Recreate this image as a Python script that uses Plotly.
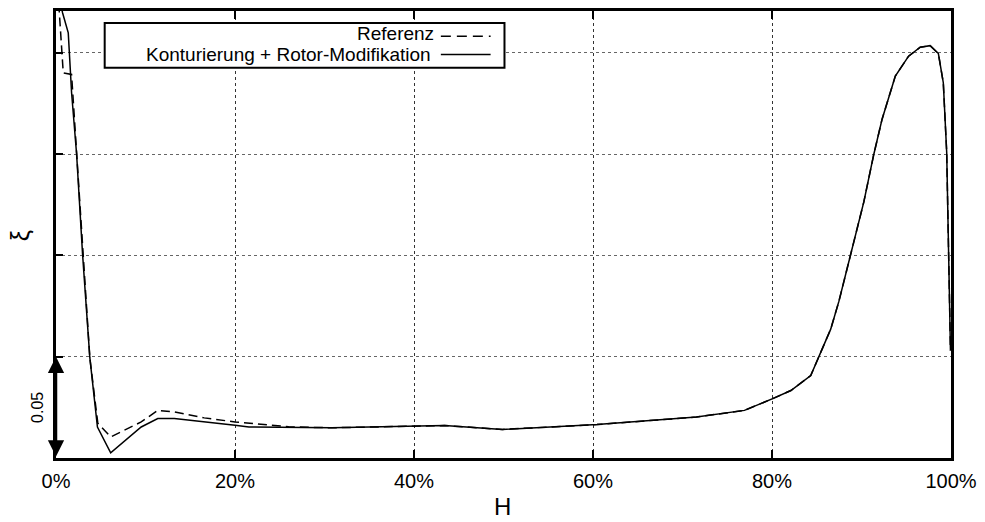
import plotly.graph_objects as go

# Relative channel height H and loss coefficient xi
h_ref = [0.0, 0.0037, 0.0081, 0.0174, 0.0230, 0.0297, 0.0378, 0.0467, 0.0611,
         0.0952, 0.1137, 0.1322, 0.1656, 0.2000, 0.2600, 0.3078, 0.4000, 0.4341,
         0.4989, 0.6044, 0.7156, 0.7692, 0.8008, 0.8211, 0.8433, 0.8656, 0.8748,
         0.9026, 0.9137, 0.9230, 0.9378, 0.9526, 0.9656, 0.9767, 0.9859, 0.9914,
         0.9952, 0.9994]
xi_ref = [0.245, 0.2196, 0.1901, 0.1893, 0.150, 0.1005, 0.0495, 0.0172, 0.0104,
          0.0178, 0.0235, 0.0227, 0.0198, 0.0178, 0.0154, 0.0149, 0.0158, 0.0160,
          0.0141, 0.0165, 0.0202, 0.0235, 0.0293, 0.0333, 0.0407, 0.0636, 0.0774,
          0.1264, 0.1498, 0.1672, 0.1885, 0.1983, 0.2027, 0.2035, 0.1996, 0.1852,
          0.1509, 0.053]

h_mod = [0.0, 0.0074, 0.0137, 0.0174, 0.0230, 0.0297, 0.0378, 0.0463, 0.0611,
         0.0952, 0.1137, 0.1322, 0.2000, 0.2156, 0.3078, 0.4000, 0.4341, 0.4989,
         0.6044, 0.7156, 0.7692, 0.8008, 0.8211, 0.8433, 0.8656, 0.8748, 0.9026,
         0.9137, 0.9230, 0.9378, 0.9526, 0.9656, 0.9767, 0.9859, 0.9914, 0.9952,
         0.9994]
xi_mod = [0.235, 0.2196, 0.2098, 0.1804, 0.150, 0.1005, 0.0495, 0.0153, 0.0026,
          0.0153, 0.0195, 0.0195, 0.0162, 0.0153, 0.0149, 0.0158, 0.0160, 0.0141,
          0.0165, 0.0202, 0.0235, 0.0293, 0.0333, 0.0407, 0.0636, 0.0774, 0.1264,
          0.1498, 0.1672, 0.1885, 0.1983, 0.2027, 0.2035, 0.1996, 0.1852, 0.1509,
          0.053]

x_ticks = [0.0, 0.2, 0.4, 0.6, 0.8, 1.0]
x_tick_labels = ["0%", "20%", "40%", "60%", "80%", "100%"]
series_names = ["Referenz", "Konturierung + Rotor-Modifikation"]
scale_bar = 0.05

FONT = "Liberation Sans, Arial, Helvetica, sans-serif"

fig = go.Figure()
fig.add_trace(go.Scatter(x=h_ref, y=xi_ref, mode="lines", name=series_names[0],
                         line=dict(color="black", width=1.5, dash="9px,5px"),
                         showlegend=False))
fig.add_trace(go.Scatter(x=h_mod, y=xi_mod, mode="lines", name=series_names[1],
                         line=dict(color="black", width=1.5),
                         showlegend=False))

fig.update_layout(
    width=985, height=522,
    margin=dict(l=56, r=29, t=8, b=64),
    paper_bgcolor="white", plot_bgcolor="white",
    font=dict(family=FONT, color="black"),
    xaxis=dict(range=[0, 1], tickvals=x_ticks, ticktext=x_tick_labels,
               tickfont=dict(size=20), ticks="inside", ticklen=8, tickwidth=2,
               tickcolor="black", showline=True, linewidth=3, linecolor="black",
               mirror="ticks", showgrid=True, gridcolor="#333", gridwidth=1,
               griddash="3px,3px", zeroline=False, ticklabelstandoff=3),
    yaxis=dict(range=[0, 0.2206], tick0=0, dtick=0.05, showticklabels=False,
               ticks="inside", ticklen=7, tickwidth=2, tickcolor="black",
               showline=True, linewidth=3, linecolor="black", mirror=True,
               showgrid=True, gridcolor="#666", gridwidth=1,
               griddash="3px,3px", zeroline=False),
)

# Axis titles
fig.add_annotation(text="H", xref="paper", yref="paper", x=0.4989, y=-0.1089,
                   showarrow=False, font=dict(size=24), xanchor="center",
                   yanchor="middle")
fig.add_annotation(text="ξ", xref="paper", yref="paper", x=-0.0394, y=0.4978,
                   showarrow=False, font=dict(size=25), textangle=-90,
                   xanchor="center", yanchor="middle")

# Scale bar for one grid step
fig.add_annotation(x=0, y=scale_bar, ax=0, ay=0, xref="x", yref="y",
                   axref="x", ayref="y", text="", showarrow=True,
                   arrowhead=2, startarrowhead=2, arrowside="end+start",
                   arrowsize=1.3, startarrowsize=1.3, arrowwidth=2.5,
                   arrowcolor="black")
fig.add_annotation(text=f"{scale_bar:.2f}", xref="paper", yref="y",
                   x=-0.0206, y=scale_bar / 2, showarrow=False,
                   textangle=-90, font=dict(size=16), xanchor="center",
                   yanchor="middle")

# Legend box with the line samples to the right of the labels
fig.add_shape(type="rect", xref="paper", yref="paper",
              x0=0.0544, x1=0.5011, y0=0.8733, y1=0.9733,
              line=dict(color="black", width=2), fillcolor="white", layer="above")
fig.add_annotation(text=series_names[0], xref="paper", yref="paper",
                   x=0.4244, y=0.9500, showarrow=False, xanchor="right",
                   yanchor="middle", font=dict(size=19))
fig.add_annotation(text=series_names[1], xref="paper", yref="paper",
                   x=0.4211, y=0.9030, showarrow=False, xanchor="right",
                   yanchor="middle", font=dict(size=19))
fig.add_shape(type="line", xref="paper", yref="paper", x0=0.43, x1=0.4856,
              y0=0.9437, y1=0.9437, layer="above",
              line=dict(color="black", width=1.5, dash="10px,6px"))
fig.add_shape(type="line", xref="paper", yref="paper", x0=0.43, x1=0.4856,
              y0=0.9029, y1=0.9029, layer="above",
              line=dict(color="black", width=1.5))

fig.write_html("out.html")
